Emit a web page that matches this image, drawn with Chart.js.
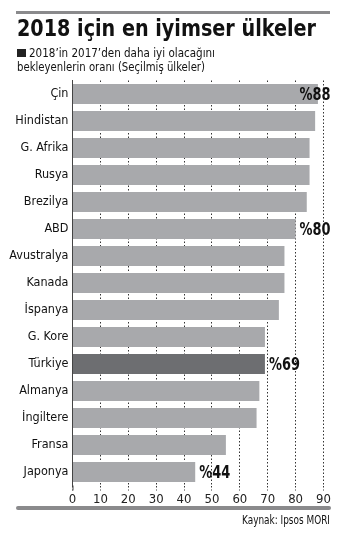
<!DOCTYPE html>
<html lang="tr">
<head>
<meta charset="utf-8">
<script src="https://cdn.jsdelivr.net/npm/chart.js@4.4.1/dist/chart.umd.min.js"></script>
<style>
  html, body { margin: 0; padding: 0; background: #fff; }
  body { width: 343px; height: 534px; position: relative; overflow: hidden;
         font-family: "DejaVu Sans Condensed", "Liberation Sans", sans-serif; color: #111; }
  #chartBox { position: absolute; left: 0; top: 0; width: 343px; height: 534px; }
  .rule { position: absolute; background: #8a8a8c; }
  #topRule { left: 16px; top: 11px; width: 314px; height: 3px; }
  #bottomRule { left: 16px; top: 506px; width: 315px; height: 4px; border-radius: 2px; }
  .fit { position: absolute; white-space: nowrap; transform-origin: 0 0; }
  #title { left: 17px; top: 12.8px; font-size: 23.5px; font-weight: bold; line-height: 30px; }
  #sub1 { left: 29px; top: 45px; font-size: 12.5px; line-height: 15px; }
  #sub2 { left: 17px; top: 59px; font-size: 12.5px; line-height: 15px; }
  #square { position: absolute; left: 17px; top: 48.5px; width: 9px; height: 8.5px; background: #222; }
  #source { top: 513.3px; font-size: 11.5px; line-height: 14px; }
</style>
</head>
<body>
<div id="chartBox"><canvas id="c"></canvas></div>
<div class="rule" id="topRule"></div>
<div class="fit" id="title" data-w="299">2018 için en iyimser ülkeler</div>
<div id="square"></div>
<div class="fit" id="sub1" data-w="186">2018’in 2017’den daha iyi olacağını</div>
<div class="fit" id="sub2" data-w="188">bekleyenlerin oranı (Seçilmiş ülkeler)</div>
<div class="rule" id="bottomRule"></div>
<div class="fit" id="source" data-w="88" data-right="330">Kaynak: Ipsos MORI</div>
<script>
// Countries, top to bottom
const countries = ["Çin", "Hindistan", "G. Afrika", "Rusya", "Brezilya", "ABD", "Avustralya",
  "Kanada", "İspanya", "G. Kore", "Türkiye", "Almanya", "İngiltere", "Fransa", "Japonya"];
// Share expecting 2018 to be better than 2017 (%)
const shares = [88, 87, 85, 85, 84, 80, 76, 76, 74, 69, 69, 67, 66, 55, 44];
// Values written next to selected bars
const calloutLabels = ["%88", "", "", "", "", "%80", "", "", "", "", "%69", "", "", "", "%44"];
// Axis ticks
const xTicks = [0, 10, 20, 30, 40, 50, 60, 70, 80, 90];
const highlighted = "Türkiye";

const FONT = '"DejaVu Sans Condensed", "Liberation Sans", sans-serif';

// Squeeze the condensed headline texts horizontally to their column widths
document.querySelectorAll(".fit").forEach(el => {
  const target = parseFloat(el.dataset.w);
  const w = el.getBoundingClientRect().width;
  el.style.transform = "scaleX(" + (target / w) + ")";
  if (el.dataset.right) el.style.left = (parseFloat(el.dataset.right) - target) + "px";
});

// Bold value callouts drawn in a narrow face, plus the short axis stub below the bars
const calloutPlugin = {
  id: "callouts",
  afterDatasetsDraw(chart) {
    const { ctx, chartArea } = chart;
    const meta = chart.getDatasetMeta(0);
    const sx = 0.8;
    ctx.save();
    ctx.strokeStyle = "#444";
    ctx.lineWidth = 1;
    ctx.beginPath();
    ctx.moveTo(chartArea.left + 0.5, chartArea.bottom);
    ctx.lineTo(chartArea.left + 0.5, chartArea.bottom + 5);
    ctx.stroke();

    ctx.font = "bold 18px " + FONT;
    ctx.fillStyle = "#111";
    ctx.textBaseline = "middle";
    ctx.textAlign = "left";
    meta.data.forEach((bar, i) => {
      const txt = calloutLabels[i];
      if (!txt) return;
      const w = ctx.measureText(txt).width * sx;
      let x = bar.x + 4;
      const maxX = chartArea.right + 7 - w;
      if (x > maxX) x = maxX;
      ctx.save();
      ctx.translate(x, bar.y + 1);
      ctx.scale(sx, 1);
      ctx.fillText(txt, 0, 0);
      ctx.restore();
    });
    ctx.restore();
  }
};

new Chart(document.getElementById("c"), {
  type: "bar",
  data: {
    labels: countries,
    datasets: [{
      data: shares,
      backgroundColor: countries.map(c => c === highlighted ? "#6d6e71" : "#a8a9ac"),
      borderWidth: 0,
      barPercentage: 0.74,
      categoryPercentage: 1
    }]
  },
  options: {
    indexAxis: "y",
    responsive: true,
    maintainAspectRatio: false,
    animation: false,
    layout: { padding: { left: 0, right: 19.5, top: 80.5, bottom: 26 } },
    plugins: { legend: { display: false }, tooltip: { enabled: false }, title: { display: false } },
    scales: {
      x: {
        min: 0, max: 90,
        afterBuildTicks(scale) { scale.ticks = xTicks.map(v => ({ value: v })); },
        afterFit(scale) { scale.height = 22.5; },
        border: { display: false, dash: [1.5, 2] },
        grid: {
          color: "#333", lineWidth: 1, drawTicks: true, tickLength: 5,
          tickColor: "#333", tickBorderDash: [1.5, 2]
        },
        ticks: { color: "#222", font: { family: FONT, size: 13 }, padding: 1 }
      },
      y: {
        afterFit(scale) { scale.width = 72.5; },
        border: { display: true, color: "#444", width: 1 },
        grid: { display: false, drawTicks: false },
        ticks: { color: "#111", font: { family: FONT, size: 12.5 }, padding: 4, autoSkip: false }
      }
    }
  },
  plugins: [calloutPlugin]
});
</script>
</body>
</html>
